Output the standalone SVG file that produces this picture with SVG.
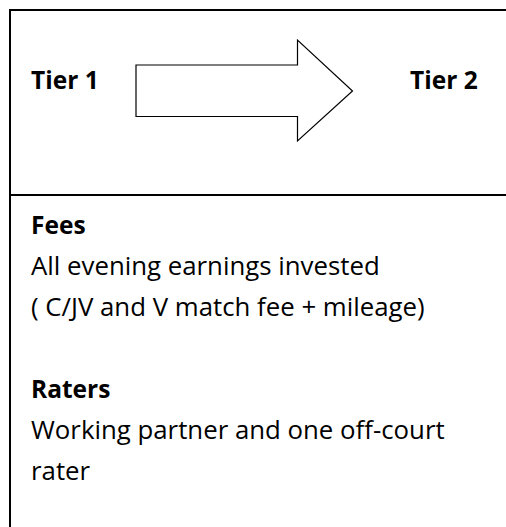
<svg xmlns="http://www.w3.org/2000/svg" width="506" height="527" viewBox="0 0 506 527">
<style>
.t{font-family:"Open Sans","Noto Sans","Liberation Sans",sans-serif;font-size:25.8px;fill:#000}
.b{font-weight:bold;font-size:24.5px}
.frame{fill:none;stroke:#000;stroke-width:2}
.arrow{fill:#fff;stroke:#000;stroke-width:1.2;stroke-linejoin:miter}
</style>
<rect width="506" height="527" fill="#fff"/>
<g id="frame">
<path class="frame" d="M10,527 V10 H508"/>
<path class="frame" d="M10,195 H508"/>
</g>
<g id="tier1"><text class="t b" x="31" y="89">Tier 1</text></g>
<g id="tier2"><text class="t b" x="410" y="89">Tier 2</text></g>
<g id="connectors">
<path class="arrow" d="M136,65 H297.5 V40 L352.5,91 L297.5,141 V116.5 H136 Z"/>
</g>
<g id="details">
<text class="t b" x="31" y="234">Fees</text>
<text class="t" x="31" y="275">All evening earnings invested</text>
<text class="t" x="31" y="316">( C/JV and V match fee + mileage)</text>
<text class="t b" x="31" y="398">Raters</text>
<text class="t" x="31" y="439">Working partner and one off-court</text>
<text class="t" x="31" y="480">rater</text>
</g>
</svg>
